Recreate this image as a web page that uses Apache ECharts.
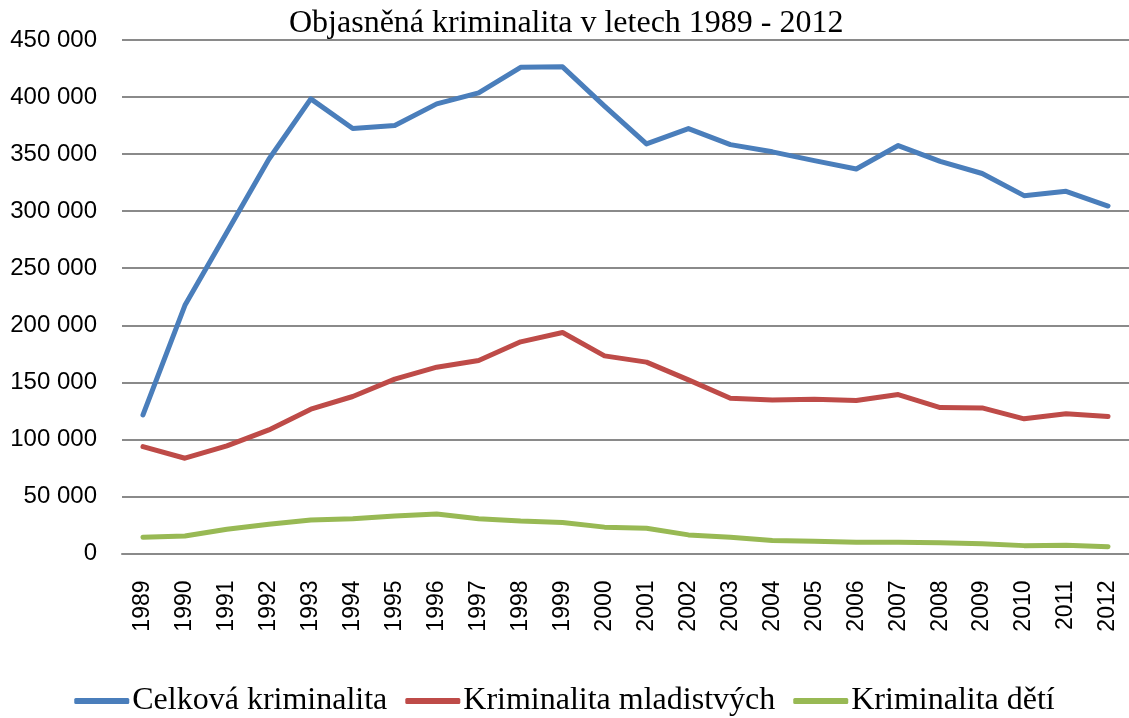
<!DOCTYPE html>
<html>
<head>
<meta charset="utf-8">
<script src="https://cdn.jsdelivr.net/npm/echarts@6/dist/echarts.min.js"></script>
<style>
  html, body { margin: 0; padding: 0; background: #fff; }
  #chart { width: 1129px; height: 718px; }
</style>
</head>
<body>
<div id="chart"></div>
<script>
const years = ['1989','1990','1991','1992','1993','1994','1995','1996','1997','1998','1999','2000',
               '2001','2002','2003','2004','2005','2006','2007','2008','2009','2010','2011','2012']
const celkova = [121500, 217500, 281500, 345500, 398400, 372400, 375000, 394000, 403700, 426100, 426500, 392000,
                 358900, 372400, 358300, 352000, 344300, 337000, 357500, 343700, 333000, 313600, 317400, 304500]
const mladistvi = [93700, 83500, 94300, 108300, 126500, 137600, 152800, 163300, 169100, 185500, 193700, 173200,
                   167700, 152200, 136100, 134600, 135200, 134000, 139300, 127900, 127600, 118000, 122400, 120000]
const deti = [14200, 15400, 21200, 25600, 29400, 30500, 32900, 34600, 30500, 28400, 27200, 23100,
              22200, 16300, 14200, 11300, 10700, 9800, 9800, 9500, 8600, 6900, 7200, 6000]

const fmt = v => String(v).replace(/\B(?=(\d{3})+(?!\d))/g, ' ')

const chart = echarts.init(document.getElementById('chart'), null, { renderer: 'canvas' })

const line = (name, data, color) => ({
  name, type: 'line', data, symbol: 'none', smooth: false,
  lineStyle: { color, width: 5, cap: 'round', join: 'round' },
  itemStyle: { color },
})

chart.setOption({
  backgroundColor: '#fff',
  animation: false,
  title: {
    text: 'Objasněná kriminalita v letech 1989 - 2012',
    left: 284, top: 3,
    textStyle: { fontFamily: 'Liberation Serif', fontWeight: 'normal', fontSize: 32, color: '#000' },
  },
  legend: {
    bottom: -4, left: 'center',
    icon: 'roundRect', itemWidth: 55, itemHeight: 6, itemGap: 18,
    textStyle: { fontFamily: 'Liberation Serif', fontSize: 32, color: '#000', padding: [0, 0, 0, -2] },
    data: ['Celková kriminalita', 'Kriminalita mladistvých', 'Kriminalita dětí'],
  },
  grid: { left: 122, right: 0, top: 40, bottom: 164.5, containLabel: false },
  xAxis: {
    type: 'category', data: years, boundaryGap: true,
    axisLine: { lineStyle: { color: '#8a8a8a', width: 2 } },
    axisTick: { show: false },
    axisLabel: { rotate: 90, margin: 27, color: '#000', fontSize: 23, fontFamily: 'Liberation Sans', interval: 0 },
  },
  yAxis: {
    type: 'value', min: 0, max: 450000, interval: 50000,
    axisLine: { show: false }, axisTick: { show: false },
    axisLabel: { color: '#000', fontSize: 24, fontFamily: 'Liberation Sans', margin: 25, formatter: fmt },
    splitLine: { lineStyle: { color: '#8a8a8a', width: 2 } },
  },
  series: [
    line('Celková kriminalita', celkova, '#4a7ebb'),
    line('Kriminalita mladistvých', mladistvi, '#be4b48'),
    line('Kriminalita dětí', deti, '#98b954'),
  ],
})
</script>
</body>
</html>
